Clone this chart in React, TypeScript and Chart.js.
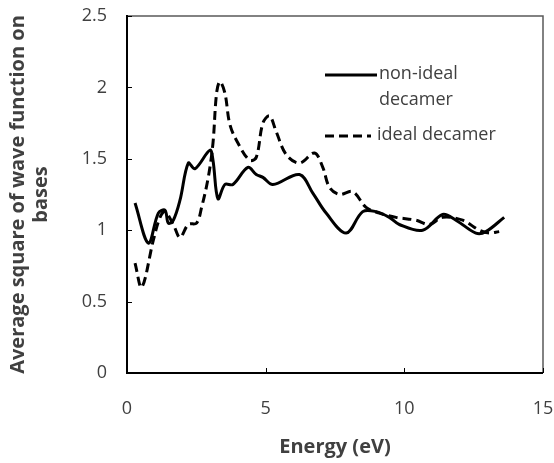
import React, { useEffect, useRef } from "react";
import { Chart, registerables } from "chart.js";

Chart.register(...registerables);

const nonIdealX = [0.29, 0.77, 1.13, 1.37, 1.49, 1.67, 1.91, 2.21, 2.45, 2.99, 3.1, 3.28, 3.53, 3.82, 4.36, 4.66, 4.9, 5.26, 6.22, 6.7, 7.18, 7.9, 8.5, 8.98, 9.46, 9.82, 10.66, 11.38, 11.86, 12.58, 12.94, 13.6];
const nonIdealY = [1.19, 0.91, 1.12, 1.14, 1.05, 1.07, 1.21, 1.47, 1.43, 1.56, 1.49, 1.22, 1.32, 1.32, 1.44, 1.39, 1.37, 1.32, 1.39, 1.26, 1.12, 0.98, 1.13, 1.13, 1.09, 1.04, 1.0, 1.11, 1.07, 0.98, 0.99, 1.09];

const idealX = [0.29, 0.53, 0.95, 1.19, 1.37, 1.67, 1.91, 2.21, 2.51, 2.69, 2.93, 3.1, 3.23, 3.35, 3.53, 3.71, 4.0, 4.42, 4.66, 4.9, 5.14, 5.38, 5.74, 6.22, 6.76, 7.06, 7.3, 7.66, 8.14, 8.62, 9.1, 9.7, 10.42, 10.9, 11.38, 12.1, 12.7, 13.06, 13.42];
const idealY = [0.77, 0.6, 0.93, 1.09, 1.13, 1.04, 0.95, 1.04, 1.05, 1.16, 1.37, 1.61, 1.96, 2.04, 1.96, 1.74, 1.61, 1.49, 1.51, 1.75, 1.8, 1.69, 1.53, 1.47, 1.54, 1.44, 1.3, 1.25, 1.27, 1.16, 1.12, 1.09, 1.07, 1.04, 1.09, 1.07, 1.0, 0.98, 0.99];

const xTicks = [0, 5, 10, 15];
const yTicks = [0, 0.5, 1, 1.5, 2, 2.5];
const seriesNames = ["non-ideal", "decamer", "ideal decamer"];
const xTitle = "Energy (eV)";
const yTitle = ["Average square of wave function on", "bases"];

const FONT = "'Open Sans', Lato, sans-serif";
const TEXT = "#404040";

const decorPlugin = {
  id: "decorFrame",
  afterDraw(chart: any) {
    const ctx = chart.ctx;
    const xs = chart.scales.x;
    const ys = chart.scales.y;
    const left = Number(xs.left);
    const right = Number(xs.right);
    const top = Number(ys.top);
    const bottom = Number(ys.bottom);
    ctx.save();
    ctx.setLineDash([]);
    ctx.globalAlpha = 1;
    // top and right frame
    ctx.strokeStyle = "#595959";
    ctx.lineWidth = 1.5;
    ctx.beginPath();
    ctx.moveTo(left, top);
    ctx.lineTo(right, top);
    ctx.lineTo(right, bottom);
    ctx.stroke();
    // left and bottom axes
    ctx.strokeStyle = "#000";
    ctx.lineWidth = 2;
    ctx.beginPath();
    ctx.moveTo(left, top - 1);
    ctx.lineTo(left, bottom);
    ctx.lineTo(right, bottom);
    ctx.stroke();
    // inward tick marks
    ctx.lineWidth = 1;
    ctx.beginPath();
    for (const v of xTicks) {
      const px = Math.round(xs.getPixelForValue(v)) + 0.5;
      ctx.moveTo(px, bottom);
      ctx.lineTo(px, bottom - 5);
    }
    for (const v of yTicks) {
      const py = Math.round(ys.getPixelForValue(v)) + 0.5;
      ctx.moveTo(left, py);
      ctx.lineTo(left + 5, py);
    }
    ctx.stroke();
    // legend
    ctx.strokeStyle = "#000";
    ctx.lineWidth = 3;
    ctx.beginPath();
    ctx.moveTo(325, 75);
    ctx.lineTo(377, 75);
    ctx.stroke();
    ctx.setLineDash([9, 5]);
    ctx.beginPath();
    ctx.moveTo(325, 136);
    ctx.lineTo(371, 136);
    ctx.stroke();
    ctx.setLineDash([]);
    ctx.fillStyle = TEXT;
    ctx.font = `18px ${FONT}`;
    ctx.textBaseline = "middle";
    ctx.textAlign = "left";
    ctx.fillText(seriesNames[0], 379, 74);
    ctx.fillText(seriesNames[1], 379, 100);
    ctx.fillText(seriesNames[2], 377, 135);
    ctx.restore();
  },
};

export default function App() {
  const ref = useRef<HTMLCanvasElement>(null);
  useEffect(() => {
    const chart = new Chart(ref.current!, {
      type: "line",
      data: {
        datasets: [
          {
            label: "non-ideal decamer",
            data: nonIdealX.map((x, i) => ({ x, y: nonIdealY[i] })),
            borderColor: "#000",
            borderWidth: 3,
            pointRadius: 0,
            tension: 0.35,
            fill: false,
          },
          {
            label: "ideal decamer",
            data: idealX.map((x, i) => ({ x, y: idealY[i] })),
            borderColor: "#000",
            borderWidth: 3,
            borderDash: [9, 5],
            pointRadius: 0,
            tension: 0.35,
            fill: false,
          },
        ],
      },
      plugins: [decorPlugin],
      options: {
        animation: false,
        responsive: false,
        layout: { padding: { top: 16, right: 11, left: 0, bottom: 0 } },
        plugins: { legend: { display: false }, tooltip: { enabled: false } },
        scales: {
          x: {
            type: "linear",
            min: 0,
            max: 15,
            afterBuildTicks: (s: any) => {
              s.ticks = xTicks.map((v) => ({ value: v }));
            },
            afterFit: (s: any) => {
              s.height = 90;
              s.paddingLeft = 0;
              s.paddingRight = 0;
            },
            grid: { display: false },
            border: { display: false },
            ticks: {
              color: TEXT,
              font: { family: FONT, size: 18 },
              padding: 17,
              maxRotation: 0,
              callback: (v: any) => String(v),
            },
            title: {
              display: true,
              text: xTitle,
              color: TEXT,
              font: { family: FONT, size: 20, weight: "bold" },
              padding: { top: 10 },
            },
          },
          y: {
            type: "linear",
            min: 0,
            max: 2.5,
            afterBuildTicks: (s: any) => {
              s.ticks = yTicks.map((v) => ({ value: v }));
            },
            afterFit: (s: any) => {
              s.width = 127;
              s.paddingTop = 0;
              s.paddingBottom = 0;
            },
            grid: { display: false },
            border: { display: false },
            ticks: {
              color: TEXT,
              font: { family: FONT, size: 18 },
              padding: 12,
              callback: (v: any) => String(v),
            },
            title: {
              display: true,
              text: yTitle,
              color: TEXT,
              font: { family: FONT, size: 20, weight: "bold", lineHeight: 1.15 },
              padding: { top: 7, bottom: 0 },
            },
          },
        },
      },
    });
    return () => chart.destroy();
  }, []);
  return (
    <div style={{ position: "fixed", left: 0, top: 0, width: 554, height: 463, background: "#fff" }}>
      <canvas ref={ref} width={554} height={463} style={{ width: 554, height: 463 }} />
    </div>
  );
}
